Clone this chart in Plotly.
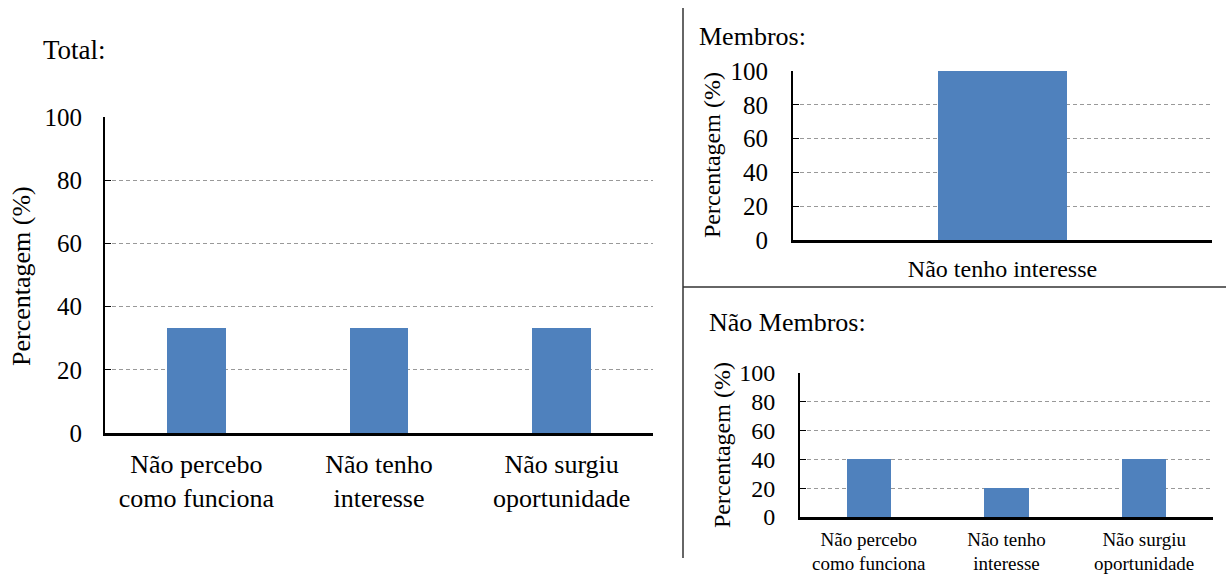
import plotly.graph_objects as go

# Data
total_categories = ["Não percebo<br>como funciona", "Não tenho<br>interesse", "Não surgiu<br>oportunidade"]
total_values = [33.3, 33.3, 33.3]

membros_categories = ["Não tenho interesse"]
membros_values = [100]

nao_membros_categories = ["Não percebo<br>como funciona", "Não tenho<br>interesse", "Não surgiu<br>oportunidade"]
nao_membros_values = [40, 20, 40]

y_ticks = [0, 20, 40, 60, 80, 100]

W, H = 1226, 579
FONT = "Liberation Serif"
BAR_COLOR = "#4F81BD"
GRID_COLOR = "#999999"


def px_x(x):
    return x / W


def px_y(y):
    return 1 - y / H


fig = go.Figure()

fig.add_trace(go.Bar(x=total_categories, y=total_values, marker_color=BAR_COLOR,
                     marker_line_width=0, width=0.32, xaxis="x", yaxis="y", hoverinfo="skip"))
fig.add_trace(go.Bar(x=membros_categories, y=membros_values, marker_color=BAR_COLOR,
                     marker_line_width=0, width=0.31, xaxis="x2", yaxis="y2", hoverinfo="skip"))
fig.add_trace(go.Bar(x=nao_membros_categories, y=nao_membros_values, marker_color=BAR_COLOR,
                     marker_line_width=0, width=0.32, xaxis="x3", yaxis="y3", hoverinfo="skip"))


def yaxis_style(size, standoff, anchor):
    return dict(
        range=[0, 100], tickvals=y_ticks, anchor=anchor, automargin=False,
        showline=True, linecolor="black", linewidth=2,
        ticks="inside", ticklen=6, tickcolor="black", tickwidth=1,
        showgrid=True, gridcolor=GRID_COLOR, gridwidth=1, griddash="4px,3px",
        zeroline=False, ticklabelstandoff=standoff,
        tickfont=dict(family=FONT, size=size, color="black"),
        fixedrange=True,
    )


def xaxis_style(size, standoff, anchor):
    return dict(
        anchor=anchor, automargin=False, showline=True, linecolor="black", linewidth=2.5,
        ticks="", showgrid=False, zeroline=False, ticklabelstandoff=standoff,
        tickfont=dict(family=FONT, size=size, color="black"),
        fixedrange=True,
    )


fig.update_layout(
    template="none",
    width=W, height=H,
    margin=dict(l=0, r=0, t=0, b=0, pad=0),
    paper_bgcolor="white", plot_bgcolor="white",
    font=dict(family=FONT, color="black"),
    showlegend=False,
    bargap=0,
    xaxis=dict(domain=[px_x(105), px_x(653)], **xaxis_style(26, 6, "y")),
    yaxis=dict(domain=[px_y(433), px_y(117)], **yaxis_style(25, 16, "x")),
    xaxis2=dict(domain=[px_x(793), px_x(1212)], **xaxis_style(24, 5, "y2")),
    yaxis2=dict(domain=[px_y(240), px_y(71)], **yaxis_style(25, 18, "x2")),
    xaxis3=dict(domain=[px_x(800), px_x(1213)], **xaxis_style(19, 3, "y3")),
    yaxis3=dict(domain=[px_y(517), px_y(373)], **yaxis_style(24, 18, "x3")),
)

# Panel titles and rotated axis titles
annotations = [
    dict(text="Total:", x=px_x(41), y=px_y(50), size=27),
    dict(text="Membros:", x=px_x(697), y=px_y(37), size=26),
    dict(text="Não Membros:", x=px_x(707), y=px_y(322), size=26),
]
for a in annotations:
    fig.add_annotation(text=a["text"], x=a["x"], y=a["y"], xref="paper", yref="paper",
                       xanchor="left", yanchor="middle", showarrow=False,
                       font=dict(family=FONT, size=a["size"], color="black"))

for cx, cy, size in [(22, 276, 26), (712, 155, 24), (722, 445, 24)]:
    fig.add_annotation(text="Percentagem (%)", x=px_x(cx), y=px_y(cy), xref="paper", yref="paper",
                       xanchor="center", yanchor="middle", textangle=-90, showarrow=False,
                       font=dict(family=FONT, size=size, color="black"))

# Panel dividers
fig.add_shape(type="line", xref="paper", yref="paper",
              x0=px_x(683), x1=px_x(683), y0=px_y(8), y1=px_y(558),
              line=dict(color="#333333", width=1.5))
fig.add_shape(type="line", xref="paper", yref="paper",
              x0=px_x(683), x1=1, y0=px_y(287), y1=px_y(287),
              line=dict(color="#333333", width=1.5))

fig.write_html("out.html")
